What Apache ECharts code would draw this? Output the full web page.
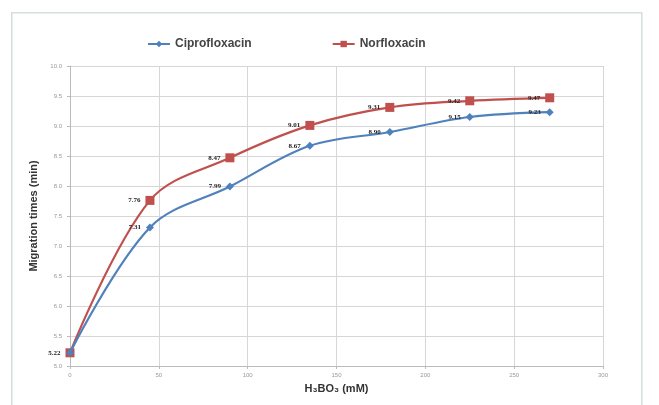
<!DOCTYPE html>
<html>
<head>
<meta charset="utf-8">
<script src="https://cdn.jsdelivr.net/npm/echarts@6/dist/echarts.min.js"></script>
<style>
html,body{margin:0;padding:0;background:#fff;}
#c{width:659px;height:405px;}
</style>
</head>
<body>
<div id="c"></div>
<script>
const concentrations = [0, 45, 90, 135, 180, 225, 270];
const ciprofloxacin = [5.22, 7.31, 7.99, 8.67, 8.90, 9.15, 9.23];
const norfloxacin = [5.22, 7.76, 8.47, 9.01, 9.31, 9.42, 9.47];
const seriesNames = ['Ciprofloxacin', 'Norfloxacin'];

const chart = echarts.init(document.getElementById('c'));
const labelStyle = {
  show: true, position: 'left', distance: 5,
  fontSize: 7, fontWeight: 'bold', color: '#222', fontFamily: 'Liberation Serif'
};
chart.setOption({
  animation: false,
  backgroundColor: '#fff',
  graphic: [{
    type: 'rect', left: 11, top: 12, z: -10,
    shape: { width: 630, height: 400 },
    style: { fill: '#fff', stroke: '#d4dfdc', lineWidth: 1.5 }
  }],
  legend: {
    top: 33, left: 142, itemGap: 80, itemWidth: 22, itemHeight: 8,
    textStyle: { fontSize: 12, fontWeight: 'bold', color: '#444', fontFamily: 'Liberation Sans' },
    data: seriesNames
  },
  grid: { left: 70, right: 56, top: 66, bottom: 39, containLabel: false },
  xAxis: {
    type: 'value', min: 0, max: 300, interval: 50,
    name: 'H₃BO₃ (mM)', nameLocation: 'middle', nameGap: 17,
    nameTextStyle: { fontSize: 11, fontWeight: 'bold', color: '#333', fontFamily: 'Liberation Sans' },
    axisLine: { show: true, lineStyle: { color: '#bbb' } },
    axisTick: { show: true, length: 3, lineStyle: { color: '#bbb' } },
    axisLabel: { fontSize: 6, color: '#999', margin: 6 },
    splitLine: { show: true, lineStyle: { color: '#d6d6d6' } }
  },
  yAxis: {
    type: 'value', min: 5, max: 10, interval: 0.5,
    name: 'Migration times (min)', nameLocation: 'middle', nameGap: 27,
    nameTextStyle: { fontSize: 11, fontWeight: 'bold', color: '#333', fontFamily: 'Liberation Sans' },
    axisLine: { show: true, lineStyle: { color: '#bbb' } },
    axisTick: { show: true, length: 3, lineStyle: { color: '#bbb' } },
    axisLabel: { fontSize: 6, color: '#999', margin: 8, formatter: v => v.toFixed(1) },
    splitLine: { show: true, lineStyle: { color: '#d6d6d6' } }
  },
  series: [
    {
      name: seriesNames[0], type: 'line', smooth: 0.35,
      data: concentrations.map((x, i) => ({
        value: [x, ciprofloxacin[i]],
        label: i === 0 ? { show: false } : undefined
      })),
      symbol: 'diamond', symbolSize: 8,
      lineStyle: { color: '#4f81bd', width: 2.2 },
      itemStyle: { color: '#4f81bd' },
      label: Object.assign({}, labelStyle, { formatter: p => p.value[1].toFixed(2) }),
      z: 3
    },
    {
      name: seriesNames[1], type: 'line', smooth: 0.35,
      data: concentrations.map((x, i) => [x, norfloxacin[i]]),
      symbol: 'rect', symbolSize: 9,
      lineStyle: { color: '#c0504d', width: 2.2 },
      itemStyle: { color: '#c0504d' },
      label: Object.assign({}, labelStyle, { formatter: p => p.value[1].toFixed(2) }),
      z: 2
    }
  ]
});
</script>
</body>
</html>
